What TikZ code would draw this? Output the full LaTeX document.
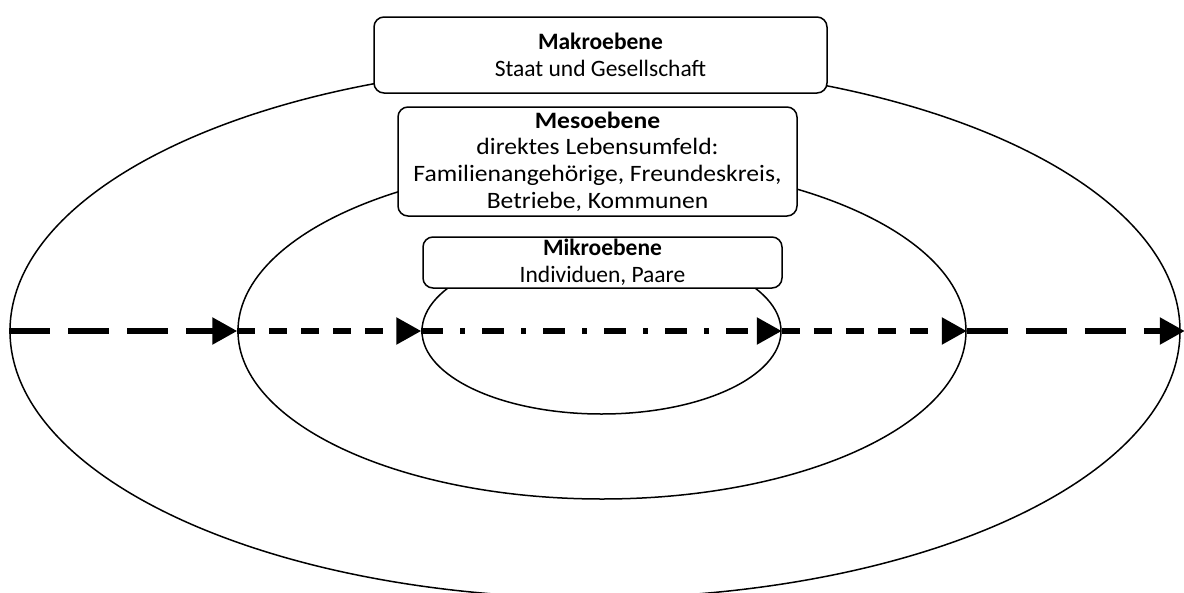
\documentclass[tikz,border=0pt]{standalone}
\usepackage{fontspec}
\setmainfont{Carlito}
\newfontfamily\mesofont[FakeStretch=1.09]{Carlito}
\usetikzlibrary{shapes.geometric,arrows.meta}
\begin{document}
\begin{tikzpicture}[x=1pt,y=-1pt,
  ring/.style={ellipse,draw,line width=1.5pt,inner sep=0pt},
  level/.style={draw,fill=white,line width=1.5pt,rounded corners=10pt,align=center,inner sep=0pt,
    font=\fontsize{23.5}{26.5}\selectfont},
  flow/.style={line width=5.5pt,-{Triangle[length=25pt,width=26pt]}},
  longdash/.style={dash pattern=on 41pt off 18pt},
  shortdash/.style={dash pattern=on 18pt off 14pt},
  dashdotted/.style={dash pattern=on 22pt off 17pt on 5pt off 17pt}]
\useasboundingbox (0,0) rectangle (1184,592);
\node[ring,minimum width=1170pt,minimum height=534pt] (outer) at (595,331) {};
\node[ring,minimum width=728pt,minimum height=336pt] (middle) at (602,331) {};
\node[ring,minimum width=359pt,minimum height=166pt] (inner) at (601.5,331) {};
\node[level,minimum width=453pt,minimum height=76pt] (makro) at (600.5,55)
  {\textbf{Makroebene}\\Staat und Gesellschaft};
\node[level,minimum width=399pt,minimum height=109pt,font=\mesofont\fontsize{23.5}{26.7}\selectfont] (meso) at (597.5,161.5)
  {\textbf{Mesoebene}\\direktes Lebensumfeld:\\Familienangehörige, Freundeskreis,\\Betriebe, Kommunen};
\node[level,minimum width=359pt,minimum height=51pt] (mikro) at (602.5,262.5)
  {\textbf{Mikroebene}\\Individuen, Paare};
\draw[flow,longdash] (outer.west) -- (middle.west);
\draw[flow,shortdash] (middle.west) -- (inner.west);
\draw[flow,dashdotted] (inner.west) -- (inner.east);
\draw[flow,shortdash] (inner.east) -- (middle.east);
\draw[flow,longdash] (middle.east) -- ([xshift=4pt]outer.east);
\end{tikzpicture}
\end{document}
